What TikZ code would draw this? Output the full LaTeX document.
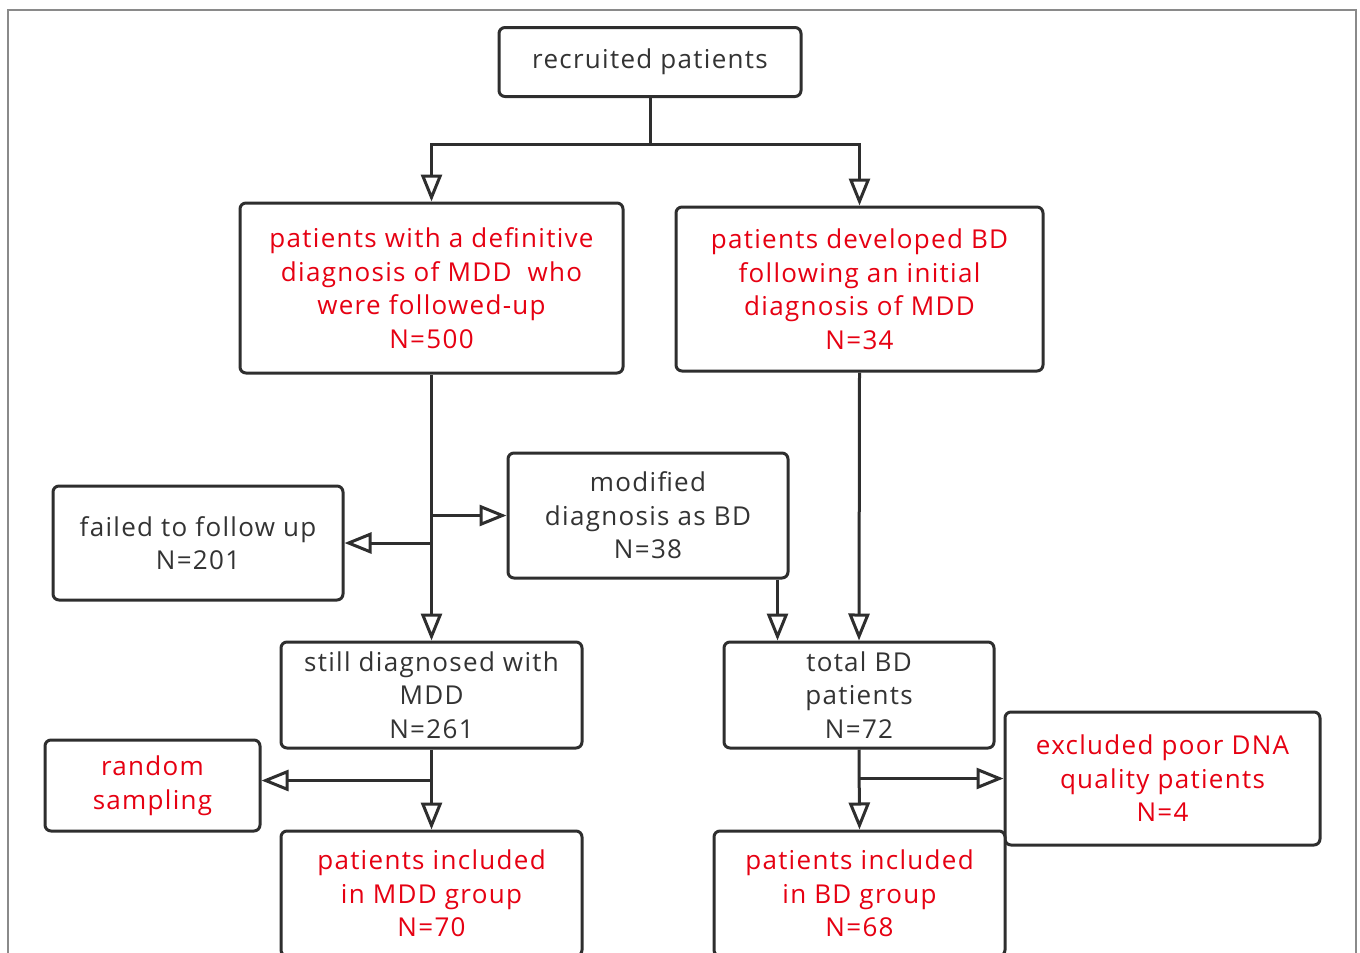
\documentclass[tikz,border=0pt]{standalone}
\usepackage{fontspec}
\setmainfont{Open Sans}[LetterSpace=5]
\usetikzlibrary{arrows.meta,positioning}
\definecolor{boxline}{HTML}{2E2E2E}
\definecolor{redtext}{HTML}{E60012}
\definecolor{greytext}{HTML}{333333}
\definecolor{framegrey}{HTML}{8A8A8A}

\begin{document}
\begin{tikzpicture}[x=1pt, y=-1pt,
    box/.style={draw=boxline, line width=3pt, rounded corners=6pt, align=center, fill=white,
        inner sep=0pt, font=\fontsize{26}{33.5}\selectfont},
    redbox/.style={box, text=redtext},
    greybox/.style={box, text=greytext},
    link/.style={draw=boxline, line width=3pt},
    flow/.style={link, -{Triangle[length=27pt, width=21pt, fill=white, line width=3pt]}}]
    \useasboundingbox (0,0) rectangle (1360,953);

    % Outer frame
    \draw[framegrey, line width=1.5pt] (8,970) -- (8,10) -- (1356,10) -- (1356,970);

    % Top box
    \node[greybox, minimum width=302pt, minimum height=69pt] (recruit) at (650,62) {recruited patients};

    % Second row
    \node[redbox, minimum width=383pt, minimum height=170pt] (mdd) at (431.5,288) {patients with a definitive\\diagnosis of MDD\ \ who\\were followed-up\\N=500};
    \node[redbox, minimum width=367pt, minimum height=164pt] (bd) at (859.5,289) {patients developed BD\\following an initial\\diagnosis of MDD\\N=34};

    % Middle row
    \node[greybox, minimum width=290pt, minimum height=114pt] (failed) at (198,543) {failed to follow up\\N=201};
    \node[greybox, minimum width=280pt, minimum height=125pt] (modified) at (648,515.5) {modified\\diagnosis as BD\\N=38};

    % Third row
    \node[greybox, minimum width=301pt, minimum height=106pt] (still) at (431.5,695) {still diagnosed with\\MDD\\N=261};
    \node[greybox, minimum width=270pt, minimum height=106pt] (totalbd) at (859,695) {total BD\\patients\\N=72};

    % Bottom row
    \node[redbox, minimum width=215pt, minimum height=91pt] (random) at (152.5,785.5) {random\\sampling};
    \node[redbox, minimum width=315pt, minimum height=133pt] (excluded) at (1162.5,778.5) {excluded poor DNA\\quality patients\\N=4};
    \node[redbox, minimum width=301pt, minimum height=125pt] (mddgroup) at (431.5,893.5) {patients included\\in MDD group\\N=70};
    \node[redbox, minimum width=291pt, minimum height=125pt] (bdgroup) at (859.5,893.5) {patients included\\in BD group\\N=68};

    % Connections
    \draw[link] (recruit.south) -- ++(0,46) coordinate (split);
    \draw[flow] (split) -| (mdd.north);
    \draw[flow] (split) -| (bd.north);

    \draw[flow] (mdd.south) -- (still.north);
    \draw[flow] (mdd.south |- modified.west) -- (modified.west);
    \draw[flow] (mdd.south |- failed.east) -- (failed.east);

    \draw[flow] ([xshift=-12pt]modified.south east) -- ([xshift=-12pt]modified.south east |- totalbd.north);
    \draw[flow] (bd.south) -- (totalbd.north);

    \draw[flow] (still.south) -- (mddgroup.north);
    \draw[flow] ([yshift=5pt]still.south |- random.east) -- ([yshift=5pt]random.east);

    \draw[flow] (totalbd.south) -- (bdgroup.north);
    \draw[flow] (totalbd.south |- excluded.west) -- (excluded.west);

\end{tikzpicture}
\end{document}
